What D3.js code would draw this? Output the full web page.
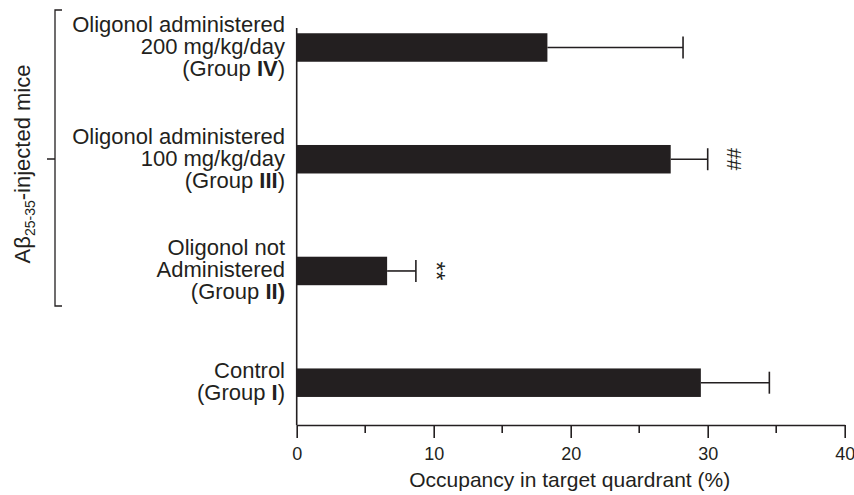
<!DOCTYPE html>
<html>
<head>
<meta charset="utf-8">
<script src="https://cdn.jsdelivr.net/npm/d3@7"></script>
<style>
  html, body { margin: 0; padding: 0; background: #fff; }
  svg { display: block; font-family: "Liberation Sans", Arial, sans-serif; }
</style>
</head>
<body>
<svg id="chart" width="854" height="495"></svg>
<script>
// Groups from top to bottom
const categories = ["IV", "III", "II", "I"];
const groupLabels = [
  ["Oligonol administered", "200 mg/kg/day", "(Group **IV**)"],
  ["Oligonol administered", "100 mg/kg/day", "(Group **III**)"],
  ["Oligonol not", "Administered", "(Group **II)**"],
  ["Control", "(Group **I**)"]
];
// Occupancy in target quadrant (%) and its error
const values = [18.3, 27.3, 6.6, 29.5];
const errors = [9.9, 2.7, 2.1, 5.0];
const significance = ["", "##", "**", ""];
const majorTicks = [0, 10, 20, 30, 40];
const minorTicks = [5, 15, 25, 35];
const xTitle = "Occupancy in target quardrant (%)";

const ink = "#231f20";
const svg = d3.select("#chart");

const x = d3.scaleLinear().domain([0, 40]).range([296.7, 844.7]);
const y = d3.scalePoint().domain(categories).range([47.5, 382.7]);
const barH = 28.5;
const axisY = 425;

// bars
svg.append("g").selectAll("rect")
  .data(categories)
  .join("rect")
  .attr("x", x(0))
  .attr("y", d => y(d) - barH / 2)
  .attr("width", (d, i) => x(values[i]) - x(0))
  .attr("height", barH)
  .attr("fill", ink);

// error bars
const eb = svg.append("g").attr("stroke", ink).attr("stroke-width", 1.6).attr("fill", "none");
categories.forEach((c, i) => {
  const cy = y(c);
  eb.append("line")
    .attr("x1", x(values[i])).attr("x2", x(values[i] + errors[i]))
    .attr("y1", cy).attr("y2", cy);
  eb.append("line")
    .attr("x1", x(values[i] + errors[i])).attr("x2", x(values[i] + errors[i]))
    .attr("y1", cy - 11).attr("y2", cy + 11);
});

// significance marks, set sideways
categories.forEach((c, i) => {
  if (!significance[i]) return;
  const star = significance[i].includes("*");
  svg.append("text")
    .attr("transform", `translate(${x(values[i] + errors[i]) + 27},${y(c)}) rotate(90)`)
    .attr("text-anchor", "middle")
    .attr("dy", star ? "0.62em" : "0.36em")
    .attr("font-size", star ? 24 : 20)
    .attr("fill", ink)
    .text(significance[i]);
});

// x axis
const xAxis = d3.axisBottom(x)
  .tickValues(majorTicks)
  .tickSize(13)
  .tickSizeOuter(0)
  .tickPadding(9)
  .tickFormat(d3.format("d"));
const gx = svg.append("g").attr("transform", `translate(0,${axisY})`).call(xAxis);
gx.select(".domain").attr("stroke", ink).attr("stroke-width", 1.6);
gx.selectAll(".tick line").attr("stroke", ink).attr("stroke-width", 1.6);
gx.selectAll(".tick text")
  .attr("fill", ink)
  .attr("font-size", 18)
  .attr("font-family", "Liberation Sans, Arial, sans-serif");

svg.append("g").attr("transform", `translate(0,${axisY})`)
  .selectAll("line")
  .data(minorTicks)
  .join("line")
  .attr("x1", d => x(d)).attr("x2", d => x(d))
  .attr("y1", 0).attr("y2", 8)
  .attr("stroke", ink).attr("stroke-width", 1.6);

svg.append("text")
  .attr("x", (x(0) + x(40)) / 2 - 1)
  .attr("y", 487)
  .attr("text-anchor", "middle")
  .attr("font-size", 21)
  .attr("fill", ink)
  .text(xTitle);

// y axis line
svg.append("line")
  .attr("x1", x(0)).attr("x2", x(0))
  .attr("y1", 28).attr("y2", axisY)
  .attr("stroke", ink).attr("stroke-width", 1.6);

// category labels (one text block per group), with bold group numerals
const lineGap = 22;
categories.forEach((c, i) => {
  const lines = groupLabels[i];
  const n = lines.length;
  const t = svg.append("text")
    .attr("x", 285)
    .attr("y", y(c) + 6.5 - (n - 1) / 2 * lineGap)
    .attr("text-anchor", "end")
    .attr("font-size", 22)
    .attr("fill", ink);
  lines.forEach((ln, j) => {
    ln.split("**").forEach((part, k) => {
      if (!part) return;
      const s = t.append("tspan")
        .attr("font-weight", k % 2 === 1 ? "bold" : "normal")
        .text(part);
      if (k === 0) s.attr("x", 285).attr("dy", j === 0 ? 0 : lineGap);
    });
  });
});

// bracket grouping the injected groups
svg.append("path")
  .attr("d", "M62,10 H55 V306 H62 M55,159 H47")
  .attr("fill", "none")
  .attr("stroke", ink)
  .attr("stroke-width", 1.3);

const side = svg.append("text")
  .attr("transform", "translate(30,164) rotate(-90)")
  .attr("text-anchor", "middle")
  .attr("font-size", 22)
  .attr("fill", ink);
side.append("tspan").text("Aβ");
side.append("tspan").attr("font-size", 14).attr("dy", 5).text("25-35");
side.append("tspan").attr("dy", -5).text("-injected mice");
</script>
</body>
</html>
